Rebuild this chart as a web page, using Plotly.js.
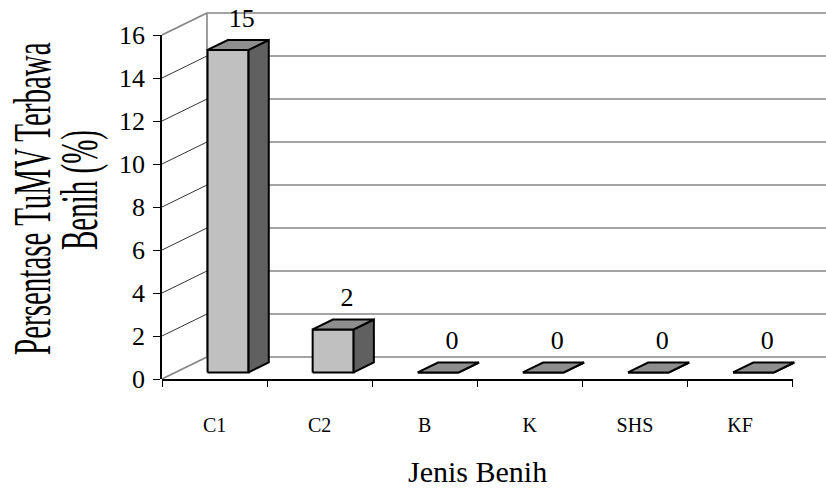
<!DOCTYPE html>
<html>
<head>
<meta charset="utf-8">
<script src="https://cdn.plot.ly/plotly-3.0.1.min.js"></script>
<style>
  .main-svg text { font-family: 'Liberation Serif', 'Times New Roman', serif !important; }
</style>
</head>
<body style="margin:0">
<div id="chart" style="width:826px;height:490px"></div>
<script>
// ---- data ----
const categories = ['C1', 'C2', 'B', 'K', 'SHS', 'KF'];
const values = [15, 2, 0, 0, 0, 0];
const yTickVals = [0, 2, 4, 6, 8, 10, 12, 14, 16];
const yTickText = ['0', '2', '4', '6', '8', '10', '12', '14', '16'];
const valueLabels = ['15', '2', '0', '0', '0', '0'];
const xTitle = 'Jenis Benih';
const yTitleLine1 = 'Persentase TuMV Terbawa';
const yTitleLine2 = 'Benih (%)';

// ---- 3D style constants (axis units) ----
const DX = 0.428;     // wall depth, x units
const DY = 1.023;     // wall depth, y units
const F0 = 0.30;      // bar front depth fraction
const F1 = 0.75;      // bar back depth fraction
const HW = 0.195;     // bar half width
const X_END = 5.818;  // right end of plot range
const Y_TOP = 17.163;
const Y_MAX_TICK = 16;
const LBL_DX = 0.26, LBL_DY = 1.68;
const SERIF = 'Liberation Serif';

const n = categories.length;
const data = [];

// back wall horizontal gridlines + back vertical edge
{
  const gx = [], gy = [];
  yTickVals.forEach(k => { gx.push(-0.5 + DX, X_END + 1, null); gy.push(k + DY, k + DY, null); });
  gx.push(-0.5 + DX, -0.5 + DX, null); gy.push(DY, Y_MAX_TICK + DY, null);
  data.push({x: gx, y: gy, mode: 'lines', line: {color: '#858585', width: 1.6}, hoverinfo: 'skip', showlegend: false});
}
// side wall diagonals
{
  const ex = [], ey = [], ix = [], iy = [];
  yTickVals.forEach(k => {
    const isEdge = (k === yTickVals[0] || k === yTickVals[yTickVals.length - 1]);
    const tx = isEdge ? ex : ix, ty = isEdge ? ey : iy;
    tx.push(-0.5, -0.5 + DX, null); ty.push(k, k + DY, null);
  });
  data.push({x: ex, y: ey, mode: 'lines', line: {color: '#858585', width: 1.6}, hoverinfo: 'skip', showlegend: false});
  data.push({x: ix, y: iy, mode: 'lines', line: {color: '#000000', width: 0.8}, hoverinfo: 'skip', showlegend: false});
}

// bars (front, right side, top)
values.forEach((v, i) => {
  const xl0 = i - HW + F0 * DX, xr0 = i + HW + F0 * DX;
  const xl1 = i - HW + F1 * DX, xr1 = i + HW + F1 * DX;
  const yb0 = F0 * DY, yt0 = v + F0 * DY;
  const yb1 = F1 * DY, yt1 = v + F1 * DY;
  const common = {mode: 'lines', fill: 'toself', line: {color: '#000000', width: 2}, hoverinfo: 'skip', showlegend: false};
  data.push(Object.assign({}, common, {x: [xl0, xr0, xr0, xl0, xl0], y: [yb0, yb0, yt0, yt0, yb0], fillcolor: '#c0c0c0'}));
  data.push(Object.assign({}, common, {x: [xr0, xr1, xr1, xr0, xr0], y: [yb0, yb1, yt1, yt0, yb0], fillcolor: '#606060'}));
  data.push(Object.assign({}, common, {x: [xl0, xr0, xr1, xl1, xl0], y: [yt0, yt0, yt1, yt1, yt0], fillcolor: '#8e8e8e'}));
});

// value labels
data.push({
  x: values.map((v, i) => i + LBL_DX),
  y: values.map(v => v + LBL_DY),
  text: valueLabels,
  mode: 'text', textposition: 'middle center',
  textfont: {family: SERIF, size: 26, color: '#000000'},
  cliponaxis: false, hoverinfo: 'skip', showlegend: false
});

// empty traces to create the front axes subplots
data.push({x: [], y: [], xaxis: 'x2', yaxis: 'y', mode: 'markers', showlegend: false, hoverinfo: 'skip'});
data.push({x: [], y: [], xaxis: 'x', yaxis: 'y2', mode: 'markers', showlegend: false, hoverinfo: 'skip'});

const hidden = {showgrid: false, zeroline: false, showline: false, showticklabels: false, ticks: ''};

const layout = {
  width: 826, height: 490,
  margin: {l: 162, r: 0, t: 10, b: 111},
  paper_bgcolor: '#ffffff', plot_bgcolor: 'rgba(0,0,0,0)',
  showlegend: false,
  font: {family: SERIF, size: 20, color: '#000000'},
  xaxis: Object.assign({domain: [0, 1], range: [-0.5, X_END], fixedrange: true}, hidden),
  yaxis: Object.assign({domain: [0, 1], range: [0, Y_TOP], fixedrange: true}, hidden),
  xaxis2: {
    domain: [0, n / (X_END + 0.5)], range: [-0.5, n - 0.5], anchor: 'y',
    showline: true, linecolor: '#000000', linewidth: 1.5,
    showgrid: false, zeroline: false,
    tickmode: 'array', tickvals: categories.map((c, i) => i), ticktext: categories,
    ticks: '', ticklabelstandoff: 27,
    tickfont: {family: SERIF, size: 20, color: '#000000'},
    minor: {tickmode: 'array', tickvals: categories.map((c, i) => i - 0.5).concat([n - 0.5]),
            ticks: 'outside', ticklen: 6, tickwidth: 1, tickcolor: '#000000', showgrid: false},
    fixedrange: true
  },
  yaxis2: {
    domain: [0, Y_MAX_TICK / Y_TOP], range: [0, Y_MAX_TICK], anchor: 'x', side: 'left',
    showline: true, linecolor: '#000000', linewidth: 1.5,
    showgrid: false, zeroline: false,
    tickmode: 'array', tickvals: yTickVals, ticktext: yTickText,
    ticks: 'outside', ticklen: 7, tickwidth: 1, tickcolor: '#000000',
    ticklabelstandoff: 3,
    tickfont: {family: SERIF, size: 26, color: '#000000'},
    fixedrange: true
  },
  annotations: [
    {text: yTitleLine1, xref: 'paper', yref: 'paper', x: (32 - 162) / 664, y: (379 - 199) / 369,
     xanchor: 'center', yanchor: 'middle', textangle: -90, showarrow: false,
     font: {family: SERIF, size: 29, color: '#000000'}},
    {text: yTitleLine2, xref: 'paper', yref: 'paper', x: (79 - 162) / 664, y: (379 - 190) / 369,
     xanchor: 'center', yanchor: 'middle', textangle: -90, showarrow: false,
     font: {family: SERIF, size: 29, color: '#000000'}},
    {text: xTitle, xref: 'x', yref: 'paper', x: (n - 1) / 2, y: (379 - 489) / 369,
     xanchor: 'center', yanchor: 'bottom', showarrow: false, borderpad: 0,
     font: {family: SERIF, size: 30, color: '#000000'}}
  ]
};

Plotly.newPlot('chart', data, layout, {displayModeBar: false}).then(gd => {
  // tall, narrow look of the rotated y title
  [[0, 1.0, 1.8], [1, 1.0, 1.8]].forEach(([idx, sAlong, sAcross]) => {
    const g = gd.querySelector('.annotation[data-index="' + idx + '"]');
    if (!g) return;
    const bb = g.getBBox();
    const cx = bb.x + bb.width / 2, cy = bb.y + bb.height / 2;
    g.setAttribute('transform', 'translate(' + cx + ',' + cy + ') scale(' + sAcross + ',' + sAlong + ') translate(' + (-cx) + ',' + (-cy) + ')');
  });
});
</script>
</body>
</html>
